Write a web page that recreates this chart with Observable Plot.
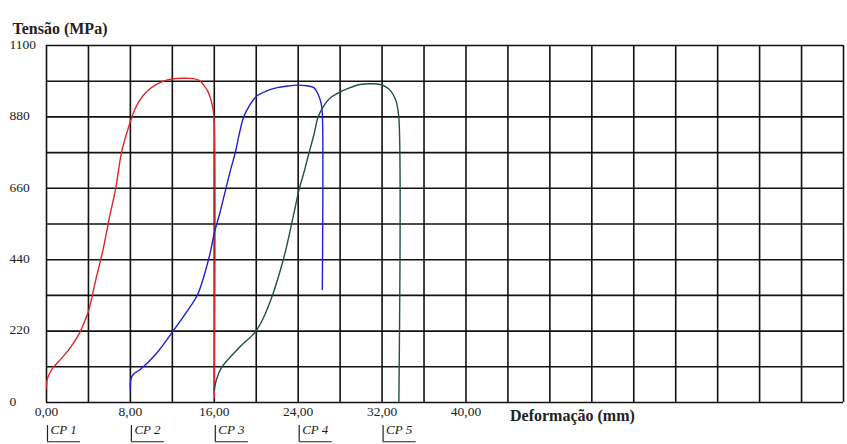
<!DOCTYPE html>
<html>
<head>
<meta charset="utf-8">
<script src="https://cdn.jsdelivr.net/npm/d3@7"></script>
<script src="https://cdn.jsdelivr.net/npm/@observablehq/plot@0.6"></script>
<style>
  html, body { margin: 0; padding: 0; background: #fff; }
  svg { display: block; }
</style>
</head>
<body>
<div id="chart"></div>
<script>
// ---- data ----
const cp1X = [0,0.06,0.3,0.64,1.6,2.5,3.2,3.7,4.0,4.3,4.7,5.1,5.4,5.7,6.0,6.6,7.15,7.65,8.15,8.6,9.2,9.8,10.5,11.3,12.0,13.0,14.0,14.6,15.0,15.4,15.7,15.9,16.0,16.0];
const cp1Y = [44,70,90,108,142,180,217,255,281,320,378,430,472,520,570,660,770,830,880,915,945,965,980,992,997,999,998,992,978,958,930,900,860,15];

const cp2X = [8.0,8.05,8.3,8.9,10.5,12.0,13.3,14.4,15.1,15.6,16.0,16.5,17.0,17.5,18.0,18.4,18.8,19.3,20.0,21.0,22.0,23.0,23.9,24.8,25.5,25.9,26.2,26.3,26.3];
const cp2Y = [39,72,88,101,152,217,276,332,399,460,522,580,645,710,770,830,880,912,943,960,970,975,978,976,970,950,920,890,348];

const cp3X = [16.0,16.2,16.7,18.5,19.9,20.7,21.6,22.4,22.9,23.6,24.1,24.6,25.0,25.5,25.9,26.4,27.1,27.9,28.7,29.9,31.0,31.8,32.4,32.8,33.2,33.4,33.6,33.6];
const cp3Y = [39,70,108,173,217,262,335,419,481,584,658,715,765,825,880,912,940,955,967,980,982,980,972,961,940,921,878,3];

const xTickValues = [0, 8, 16, 24, 32, 40];
const xTickLabels = ["0,00", "8,00", "16,00", "24,00", "32,00", "40,00"];
const yTickValues = [0, 220, 440, 660, 880, 1100];
const yTickLabels = ["0", "220", "440", "660", "880", "1100"];
const cpPositions = [0, 8, 16, 24, 32];
const cpLabels = ["CP 1", "CP 2", "CP 3", "CP 4", "CP 5"];
const gridXValues = d3.range(0, 77, 4);
const gridYValues = d3.range(0, 1101, 110);

const toRows = (xs, ys) => xs.map((x, i) => ({x, y: ys[i]}));
const s1 = toRows(cp1X, cp1Y);
const s2 = toRows(cp2X, cp2Y);
const s3 = toRows(cp3X, cp3Y);

const xTicks = xTickValues.map((v, i) => ({v, label: xTickLabels[i]}));
const yTicks = yTickValues.map((v, i) => ({v, label: yTickLabels[i]}));
const cps = cpPositions.map((v, i) => ({v, label: cpLabels[i]}));

const font = "Liberation Serif";

const chart = Plot.plot({
  width: 847,
  height: 444,
  marginLeft: 46,
  marginRight: 4,
  marginTop: 45,
  marginBottom: 42,
  style: {fontFamily: font, background: "#fff", overflow: "visible"},
  x: {domain: [0, 76], axis: null},
  y: {domain: [0, 1100], axis: null},
  marks: [
    Plot.gridX(gridXValues, {stroke: "#111", strokeOpacity: 1, strokeWidth: 1.6}),
    Plot.gridY(gridYValues, {stroke: "#111", strokeOpacity: 1, strokeWidth: 1.6}),
    Plot.line(s1, {x: "x", y: "y", stroke: "#e0262a", strokeWidth: 1.4, curve: "catmull-rom"}),
    Plot.line(s2, {x: "x", y: "y", stroke: "#1f1fd6", strokeWidth: 1.4, curve: "catmull-rom"}),
    Plot.line(s3, {x: "x", y: "y", stroke: "#234f47", strokeWidth: 1.4, curve: "catmull-rom"}),
    // y tick labels
    Plot.text(yTicks, {y: "v", text: "label", frameAnchor: "left", textAnchor: "start", dx: -37, dy: -1, fontSize: 13.5, fontFamily: font, fill: "#222"}),
    // x tick labels
    Plot.text(xTicks, {x: "v", text: "label", frameAnchor: "bottom", dy: 13, fontSize: 13.5, fontFamily: font, fill: "#222"}),
    // CP labels with bracket
    Plot.ruleX(cps, {x: "v", y1: -71, y2: -121, stroke: "#222", strokeWidth: 1.2, dx: 1}),
    Plot.ruleY(cps, {y: -121, x1: "v", x2: d => d.v + 3.15, stroke: "#222", strokeWidth: 1.2, dx: 1}),
    Plot.text(cps, {x: "v", text: "label", frameAnchor: "bottom", textAnchor: "start", dx: 4, dy: 31, fontSize: 13, fontStyle: "italic", fontFamily: font, fill: "#222"}),
    // axis titles
    Plot.text(["Deformação (mm)"], {x: 44.2, frameAnchor: "bottom", textAnchor: "start", dy: 18, fontSize: 16, fontWeight: "bold", fontFamily: font, fill: "#222"}),
    Plot.text(["Tensão (MPa)"], {frameAnchor: "top-left", textAnchor: "start", dx: -34, dy: -23, fontSize: 16, fontWeight: "bold", fontFamily: font, fill: "#222"})
  ]
});

document.getElementById("chart").appendChild(chart);
</script>
</body>
</html>
